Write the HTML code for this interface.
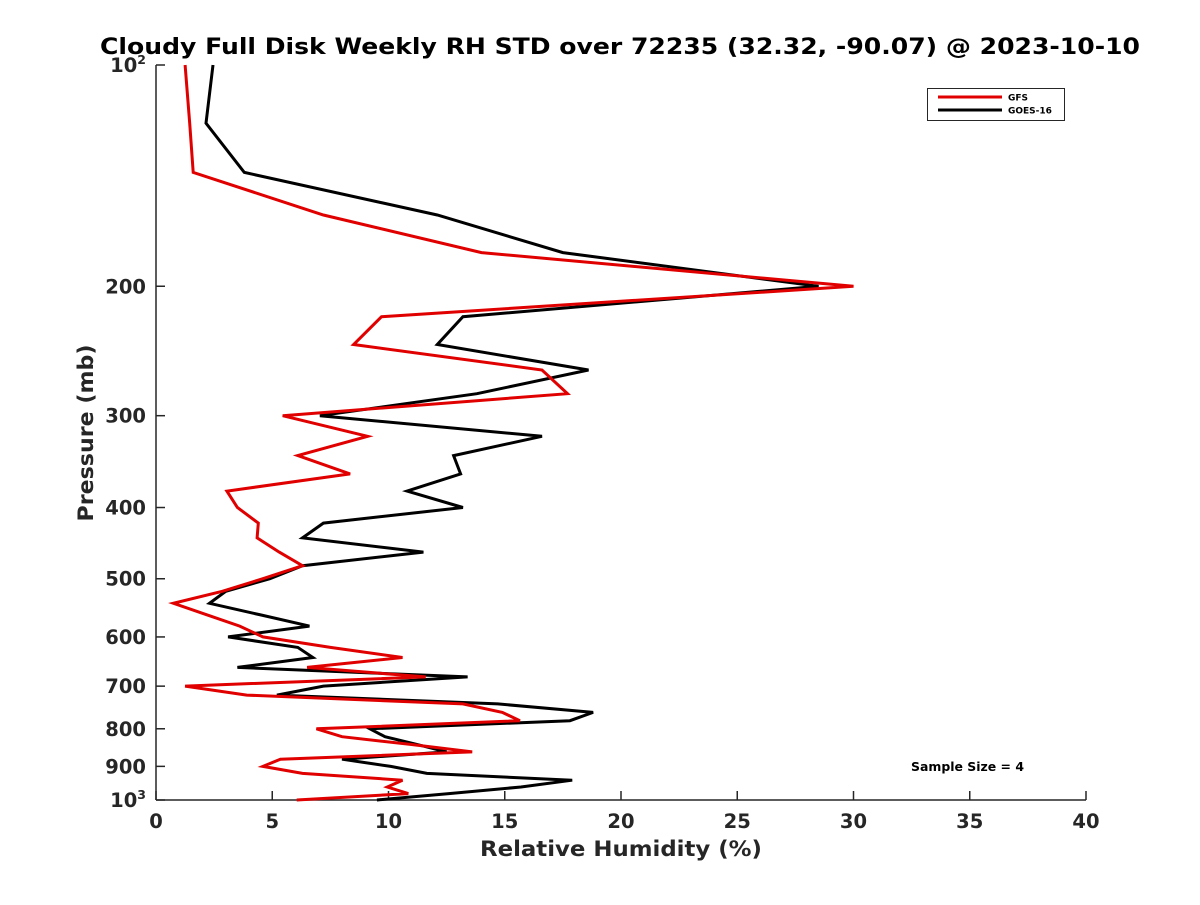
<!DOCTYPE html>
<html><head><meta charset="utf-8"><style>
body{margin:0;background:#fff}
svg text{font-family:"DejaVu Sans","Liberation Sans",sans-serif;font-weight:bold;fill:#262626}
</style></head><body>
<svg id="chart" width="1200" height="900" viewBox="0 0 1200 900" xmlns="http://www.w3.org/2000/svg">
<rect width="1200" height="900" fill="#fff"/>
<text x="620" y="54" font-size="22.5" text-anchor="middle" textLength="1040" lengthAdjust="spacingAndGlyphs" style="fill:#000">Cloudy Full Disk Weekly RH STD over 72235 (32.32, -90.07) @ 2023-10-10</text>
<g id="axes"></g>
<g id="series"></g>
<g>
<rect x="927.5" y="88.5" width="137" height="32" fill="#fff" stroke="#262626" stroke-width="1"/>
<line x1="938" y1="97" x2="1002" y2="97" stroke="#e00000" stroke-width="3"/>
<text x="1008" y="100.5" font-size="9" style="fill:#000">GFS</text>
<line x1="938" y1="110" x2="1002" y2="110" stroke="#000" stroke-width="3"/>
<text x="1008" y="113.5" font-size="9" style="fill:#000">GOES-16</text>
</g>
<text x="911" y="771" font-size="12.5" textLength="113" lengthAdjust="spacingAndGlyphs" style="fill:#000">Sample Size = 4</text>
<text x="621" y="856" font-size="21.5" text-anchor="middle" textLength="282" lengthAdjust="spacingAndGlyphs">Relative Humidity (%)</text>
<text transform="translate(93,433) rotate(-90)" font-size="21.5" text-anchor="middle" textLength="177" lengthAdjust="spacingAndGlyphs">Pressure (mb)</text>
</svg>
<script>
const pressures=[100,120,140,160,180,200,220,240,260,280,300,320,340,360,380,400,420,440,460,480,500,520,540,560,580,600,620,640,660,680,700,720,740,760,780,800,820,840,860,880,900,920,940,960,980,1000];
const goesValues=[2.45,2.15,3.8,12.1,17.5,28.5,13.2,12.1,18.6,13.8,7.05,16.6,12.8,13.1,10.8,13.2,7.2,6.3,11.5,6.3,4.9,3.0,2.3,4.5,6.6,3.1,6.1,6.75,3.5,13.4,7.2,5.2,14.7,18.8,17.8,9.2,9.85,11.2,12.5,8.0,10.1,11.65,17.9,15.7,12.6,9.5];
const gfsValues=[1.25,1.45,1.6,7.2,14.0,30.0,9.7,8.5,16.6,17.7,5.45,9.1,6.1,8.35,3.05,3.5,4.4,4.35,5.3,6.3,4.6,2.85,0.75,2.2,3.6,4.6,7.5,10.6,6.5,11.6,1.25,3.9,13.2,14.9,15.65,6.9,8.0,10.9,13.6,5.35,4.6,6.3,10.6,9.95,10.85,6.05];
const xTicks=[0,5,10,15,20,25,30,35,40];
const yTicks=[100,200,300,400,500,600,700,800,900,1000];
const yTickLabels=["10|2","200","300","400","500","600","700","800","900","10|3"];
const L=156,R=1086,T=65,B=800;
const xs=v=>L+(v-0)/(40-0)*(R-L);
const ys=p=>T+Math.log10(p/100)*(B-T);
const NS="http://www.w3.org/2000/svg";
function mk(tag,attrs,parent){const e=document.createElementNS(NS,tag);for(const k in attrs)e.setAttribute(k,attrs[k]);parent.appendChild(e);return e;}
const ax=document.getElementById('axes');
const xa=mk('line',{x1:L,y1:B,x2:R,y2:B,stroke:'#262626','stroke-width':1.5},ax);


const ya=mk('line',{x1:L,y1:T,x2:L,y2:B,stroke:'#262626','stroke-width':1.5},ax);


xTicks.forEach(v=>{
 const t=mk('line',{x1:xs(v),y1:B,x2:xs(v),y2:B-9,stroke:'#262626','stroke-width':1.5},ax);
 
 
 const l=mk('text',{x:xs(v),y:B+28,'font-size':19.5,'text-anchor':'middle'},ax);
 l.textContent=v;
 
 
});
yTicks.forEach((p,i)=>{
 const t=mk('line',{x1:L,y1:ys(p),x2:L+9,y2:ys(p),stroke:'#262626','stroke-width':1.5},ax);
 
 
 const l=mk('text',{x:L-10,y:ys(p)+7,'font-size':19.5,'text-anchor':'end'},ax);
 const parts=yTickLabels[i].split('|');
 if(parts.length>1){
  const a=mk('tspan',{},l);a.textContent=parts[0];
  const b=mk('tspan',{'font-size':12.5,dy:-8},l);b.textContent=parts[1];
 } else l.textContent=parts[0];
 
 
});
const sg=document.getElementById('series');
function line(vals,color,name){
 const pts=vals.map((v,i)=>xs(v).toFixed(1)+','+ys(pressures[i]).toFixed(1)).join(' ');
 const pl=mk('polyline',{points:pts,fill:'none',stroke:color,'stroke-width':3,'stroke-linejoin':'miter'},sg);
 
 
}
line(goesValues,'#000','goes16-line');
line(gfsValues,'#e00000','gfs-line');
</script>
</body></html>
